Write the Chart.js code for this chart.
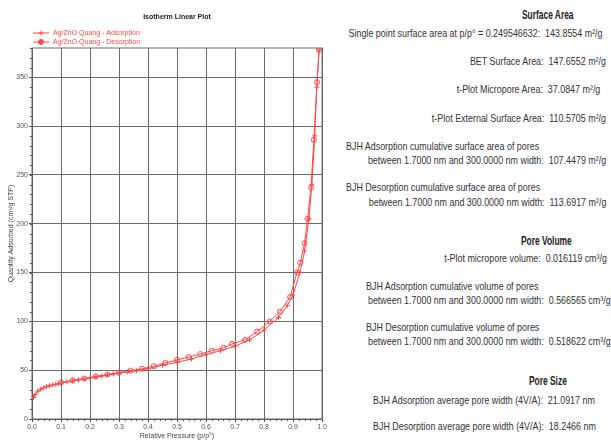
<!DOCTYPE html>
<html>
<head>
<meta charset="utf-8">
<script src="https://cdn.jsdelivr.net/npm/chart.js@4/dist/chart.umd.min.js"></script>
<style>
    html, body { margin: 0; padding: 0; background: #fff; }
    #page { position: relative; width: 611px; height: 440px; overflow: hidden; }
    #chart-box { position: absolute; left: 0; top: 0; width: 330px; height: 440px; }
    .t {
        position: absolute;
        white-space: nowrap;
        font-family: "Liberation Sans", Arial, sans-serif;
        font-size: 11px;
        line-height: 12px;
        color: #333;
        transform: scaleX(0.81);
        transform-origin: left center;
    }
    .r { transform-origin: right center; }
    .h { font-weight: bold; font-size: 12px; color: #222; transform: scaleX(0.7); }
</style>
</head>
<body>
<div id="page">
    <div id="chart-box"><canvas id="iso-chart" width="330" height="440"></canvas></div>

    <div class="t h" style="left:522px; top:9px;">Surface Area</div>
    <div class="t r" style="right:8px; top:27px;">Single point surface area at p/p° = 0.249546632:&nbsp; 143.8554 m²/g</div>
    <div class="t r" style="right:5px; top:55px;">BET Surface Area:&nbsp; 147.6552 m²/g</div>
    <div class="t r" style="right:11px; top:83px;">t-Plot Micropore Area:&nbsp; 37.0847 m²/g</div>
    <div class="t r" style="right:5px; top:112px;">t-Plot External Surface Area:&nbsp; 110.5705 m²/g</div>
    <div class="t" style="left:346px; top:140px;">BJH Adsorption cumulative surface area of pores</div>
    <div class="t r" style="right:5px; top:154px;">between 1.7000 nm and 300.0000 nm width:&nbsp; 107.4479 m²/g</div>
    <div class="t" style="left:346px; top:181px;">BJH Desorption cumulative surface area of pores</div>
    <div class="t r" style="right:5px; top:196px;">between 1.7000 nm and 300.0000 nm width:&nbsp; 113.6917 m²/g</div>

    <div class="t h" style="left:521px; top:235px;">Pore Volume</div>
    <div class="t r" style="right:4px; top:252px;">t-Plot micropore volume:&nbsp; 0.016119 cm³/g</div>
    <div class="t" style="left:366px; top:280px;">BJH Adsorption cumulative volume of pores</div>
    <div class="t r" style="right:0px; top:294px;">between 1.7000 nm and 300.0000 nm width:&nbsp; 0.566565 cm³/g</div>
    <div class="t" style="left:366px; top:321px;">BJH Desorption cumulative volume of pores</div>
    <div class="t r" style="right:0px; top:335px;">between 1.7000 nm and 300.0000 nm width:&nbsp; 0.518622 cm³/g</div>

    <div class="t h" style="left:529px; top:375px;">Pore Size</div>
    <div class="t" style="left:373px; top:394px;">BJH Adsorption average pore width (4V/A):&nbsp; 21.0917 nm</div>
    <div class="t" style="left:373px; top:420px;">BJH Desorption average pore width (4V/A):&nbsp; 18.2466 nm</div>
</div>

<script>
// isotherm data
const chartTitle = "Isotherm Linear Plot";
const seriesNames = ["Ag/ZnO Quang - Adsorption", "Ag/ZnO Quang - Desorption"];

const adsP = [0.005, 0.01, 0.02, 0.03, 0.04, 0.05, 0.06, 0.07, 0.08, 0.09, 0.10, 0.12, 0.14, 0.16, 0.18,
    0.20, 0.22, 0.24, 0.26, 0.28, 0.30, 0.33, 0.36, 0.40, 0.45, 0.50, 0.55, 0.60, 0.65, 0.70, 0.75,
    0.80, 0.85, 0.88, 0.90, 0.924, 0.94, 0.955, 0.965, 0.975, 0.982, 0.99];
const adsQ = [22, 25, 28.5, 30.5, 32, 33, 34, 34.8, 35.5, 36.2, 37, 38, 39, 40, 41,
    42, 43, 44, 45, 46, 47, 48.3, 49.5, 51.5, 55, 58, 61.5, 66, 70, 74.5, 81,
    91, 104, 116, 127, 150, 172, 205, 240, 290, 340, 378];

const desP = [0.99, 0.983, 0.972, 0.962, 0.95, 0.94, 0.925, 0.914, 0.89, 0.855, 0.82, 0.776, 0.734,
    0.69, 0.66, 0.62, 0.58, 0.54, 0.50, 0.46, 0.42, 0.38, 0.34, 0.30, 0.26, 0.22, 0.18, 0.14, 0.10];
const desQ = [378, 345, 286, 237, 205, 180, 160, 150, 125, 110, 100, 89.5, 81,
    77, 73, 70, 66.5, 63.5, 60.5, 57.5, 54, 51.5, 49.5, 47.5, 45.5, 43.5, 41.5, 39.5, 37.5];

const xTicks = [0, 0.1, 0.2, 0.3, 0.4, 0.5, 0.6, 0.7, 0.8, 0.9, 1.0];
const yTicks = [0, 50, 100, 150, 200, 250, 300, 350];
const xMinorStep = 0.02;
const yMinorStep = 10;

const RED = "rgba(255, 70, 70, 1)";
const GRID = "#6b6b6b";
const TICK_FONT = { family: "Liberation Sans, Arial, sans-serif", size: 7 };

function toPoints(xs, ys) {
    return xs.map((x, i) => ({ x: x, y: ys[i] }));
}

// frame, minor ticks, title and the little legend
const decorPlugin = {
    id: "decor",
    afterDraw(chart) {
        const ctx = chart.ctx;
        const area = chart.chartArea;
        const xs = chart.scales.x;
        const ys = chart.scales.y;

        ctx.save();
        ctx.strokeStyle = GRID;
        ctx.lineWidth = 1;
        ctx.strokeRect(area.left, area.top, area.right - area.left, area.bottom - area.top);

        ctx.strokeStyle = "#555";
        ctx.beginPath();
        for (let v = 0; v <= xs.max + 1e-9; v += xMinorStep) {
            const px = Math.round(xs.getPixelForValue(v)) + 0.5;
            ctx.moveTo(px, area.bottom);
            ctx.lineTo(px, area.bottom + 2);
        }
        for (let v = 0; v <= ys.max + 1e-9; v += yMinorStep) {
            const py = Math.round(ys.getPixelForValue(v)) + 0.5;
            ctx.moveTo(area.left - 2, py);
            ctx.lineTo(area.left, py);
        }
        ctx.stroke();

        ctx.fillStyle = "#222";
        ctx.font = "bold 7px Liberation Sans, Arial, sans-serif";
        ctx.textAlign = "center";
        ctx.textBaseline = "middle";
        ctx.fillText(chartTitle, (area.left + area.right) / 2, 17);

        ctx.font = "7px Liberation Sans, Arial, sans-serif";
        ctx.textAlign = "left";
        chart.data.datasets.forEach((ds, i) => {
            const y = 33 + i * 9;
            const x0 = area.left + 1;
            ctx.strokeStyle = RED;
            ctx.lineWidth = 1;
            ctx.beginPath();
            ctx.moveTo(x0, y);
            ctx.lineTo(x0 + 16, y);
            ctx.stroke();
            Chart.helpers.drawPoint(ctx, {
                pointStyle: ds.pointStyle,
                radius: 2.5,
                borderWidth: 1,
            }, x0 + 8, y);
            ctx.fillStyle = RED;
            ctx.fillText(ds.label, x0 + 20, y);
        });
        ctx.restore();
    },
};

function renderIsotherm() {
    const canvas = document.getElementById("iso-chart");
    if (!canvas) return;

    new Chart(canvas.getContext("2d"), {
        type: "scatter",
        data: {
            datasets: [
                {
                    label: seriesNames[0],
                    data: toPoints(adsP, adsQ),
                    showLine: true,
                    borderColor: RED,
                    backgroundColor: "rgba(255,255,255,0)",
                    borderWidth: 1,
                    pointStyle: "cross",
                    pointRadius: 2.5,
                    pointBorderColor: RED,
                    pointBorderWidth: 1,
                    tension: 0,
                },
                {
                    label: seriesNames[1],
                    data: toPoints(desP, desQ),
                    showLine: true,
                    borderColor: RED,
                    backgroundColor: "rgba(255,255,255,0)",
                    borderWidth: 1,
                    pointStyle: "circle",
                    pointRadius: 2.5,
                    pointBorderColor: RED,
                    pointBorderWidth: 1,
                    tension: 0,
                },
            ],
        },
        options: {
            responsive: false,
            animation: false,
            layout: { padding: { left: 0, right: 8, top: 48, bottom: 0 } },
            plugins: {
                legend: { display: false },
                tooltip: { enabled: false },
            },
            scales: {
                x: {
                    type: "linear",
                    min: 0,
                    max: 1,
                    afterBuildTicks: (scale) => { scale.ticks = xTicks.map(v => ({ value: v })); },
                    afterFit: (scale) => { scale.height = 21; },
                    ticks: {
                        color: "#555",
                        font: TICK_FONT,
                        padding: 1,
                        maxRotation: 0,
                        callback: (v) => Number(v).toFixed(1),
                    },
                    grid: { color: GRID, lineWidth: 1, tickLength: 3, tickColor: "#555" },
                    border: { color: "#555" },
                    title: {
                        display: true,
                        text: "Relative Pressure (p/p°)",
                        color: "#444",
                        font: { family: "Liberation Sans, Arial, sans-serif", size: 7 },
                        padding: { top: 0, bottom: 0 },
                    },
                },
                y: {
                    type: "linear",
                    min: 0,
                    max: 380,
                    afterBuildTicks: (scale) => { scale.ticks = yTicks.map(v => ({ value: v })); },
                    afterFit: (scale) => { scale.width = 32; },
                    ticks: {
                        color: "#555",
                        font: TICK_FONT,
                        padding: 1,
                    },
                    grid: { color: GRID, lineWidth: 1, tickLength: 3, tickColor: "#555" },
                    border: { color: "#555" },
                    title: {
                        display: true,
                        text: "Quantity Adsorbed (cm³/g STP)",
                        color: "#444",
                        font: { family: "Liberation Sans, Arial, sans-serif", size: 7 },
                        padding: { top: 7, bottom: 0 },
                    },
                },
            },
        },
        plugins: [decorPlugin],
    });
}

document.addEventListener("DOMContentLoaded", () => {
    renderIsotherm();
});
</script>
</body>
</html>
